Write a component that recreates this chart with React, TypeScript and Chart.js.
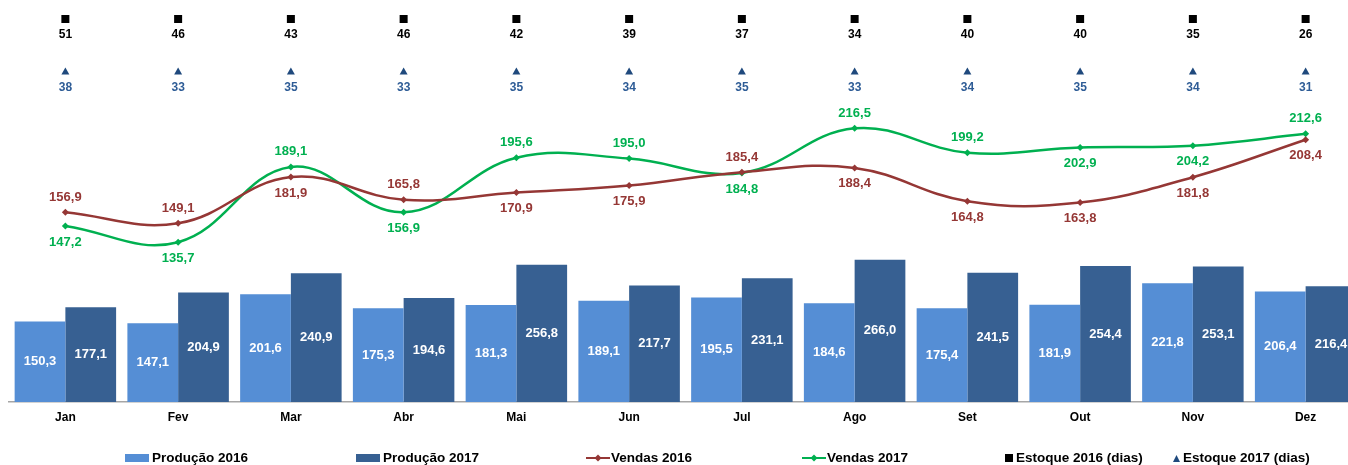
import React, { useEffect, useRef } from 'react';
import { Chart, registerables } from 'chart.js';

Chart.register(...registerables);

// ---------- DATA ----------
const months = ['Jan', 'Fev', 'Mar', 'Abr', 'Mai', 'Jun', 'Jul', 'Ago', 'Set', 'Out', 'Nov', 'Dez'];
const producao2016 = [150.3, 147.1, 201.6, 175.3, 181.3, 189.1, 195.5, 184.6, 175.4, 181.9, 221.8, 206.4];
const producao2017 = [177.1, 204.9, 240.9, 194.6, 256.8, 217.7, 231.1, 266.0, 241.5, 254.4, 253.1, 216.4];
const vendas2016 = [156.9, 149.1, 181.9, 165.8, 170.9, 175.9, 185.4, 188.4, 164.8, 163.8, 181.8, 208.4];
const vendas2017 = [147.2, 135.7, 189.1, 156.9, 195.6, 195.0, 184.8, 216.5, 199.2, 202.9, 204.2, 212.6];
const estoque2016 = [51, 46, 43, 46, 42, 39, 37, 34, 40, 40, 35, 26];
const estoque2017 = [38, 33, 35, 33, 35, 34, 35, 33, 34, 35, 34, 31];

// ---------- STYLE / LAYOUT ----------
const FONT = '"Liberation Sans", Arial, Helvetica, sans-serif';
const C_P16 = '#558ED5';
const C_P17 = '#376092';
const C_V16 = '#953735';
const C_V17 = '#00B050';
const C_E16 = '#000000';
const C_E17 = '#1F497D';
const C_E17_TEXT = '#2E5C96';

const posV16 = ['above', 'above', 'below', 'above', 'below', 'below', 'above', 'below', 'below', 'below', 'below', 'below'];
const posV17 = ['below', 'below', 'above', 'below', 'above', 'above', 'below', 'above', 'above', 'below', 'below', 'above'];

// vertical rows (canvas pixels) of the stock annotation rows
const ROW_E16_MARK = 19;
const ROW_E16_TEXT = 35;
const ROW_E17_MARK = 71;
const ROW_E17_TEXT = 88;

const fmt = (v: number) => v.toFixed(1).replace('.', ',');

const valueLabelsPlugin = {
  id: 'valueLabels',
  afterDatasetsDraw(chart: any) {
    const ctx = chart.ctx;
    ctx.save();
    ctx.textAlign = 'center';
    ctx.textBaseline = 'middle';
    ctx.font = `bold 13px ${FONT}`;
    chart.data.datasets.forEach((ds: any, di: number) => {
      const meta = chart.getDatasetMeta(di);
      if (!meta || meta.hidden) return;
      meta.data.forEach((el: any, i: number) => {
        const v = ds.data[i];
        if (ds.type === 'bar') {
          ctx.fillStyle = '#FFFFFF';
          ctx.fillText(fmt(v), el.x, (el.y + el.base) / 2);
        } else if (ds.labelPos) {
          ctx.fillStyle = ds.borderColor;
          const dy = ds.labelPos[i] === 'above' ? -15 : 16;
          ctx.fillText(fmt(v), el.x, el.y + dy);
        }
      });
    });
    ctx.restore();
  },
};

const estoquePlugin = {
  id: 'estoqueRows',
  afterDraw(chart: any) {
    const ctx = chart.ctx;
    const xs = chart.scales.x;
    ctx.save();
    ctx.textAlign = 'center';
    ctx.textBaseline = 'middle';
    ctx.font = `bold 12px ${FONT}`;
    months.forEach((_, i) => {
      const x = xs.getPixelForValue(i);
      // Estoque 2016: square
      ctx.fillStyle = C_E16;
      ctx.fillRect(x - 4, ROW_E16_MARK - 4, 8, 8);
      ctx.fillText(String(estoque2016[i]), x, ROW_E16_TEXT);
      // Estoque 2017: triangle
      ctx.fillStyle = C_E17;
      ctx.beginPath();
      ctx.moveTo(x, ROW_E17_MARK - 3.5);
      ctx.lineTo(x + 4, ROW_E17_MARK + 3.5);
      ctx.lineTo(x - 4, ROW_E17_MARK + 3.5);
      ctx.closePath();
      ctx.fill();
      ctx.fillStyle = C_E17_TEXT;
      ctx.fillText(String(estoque2017[i]), x, ROW_E17_TEXT);
    });
    ctx.restore();
  },
};

const legendItems = [
  { label: 'Produção 2016', kind: 'bar', color: C_P16, left: 125 },
  { label: 'Produção 2017', kind: 'bar', color: C_P17, left: 356 },
  { label: 'Vendas 2016', kind: 'line', color: C_V16, left: 586 },
  { label: 'Vendas 2017', kind: 'line', color: C_V17, left: 802 },
  { label: 'Estoque 2016 (dias)', kind: 'square', color: C_E16, left: 1005 },
  { label: 'Estoque 2017 (dias)', kind: 'triangle', color: C_E17, left: 1173 },
];

function LegendMarker({ kind, color }: { kind: string; color: string }) {
  if (kind === 'bar') {
    return (
      <svg width={24} height={8} style={{ marginRight: 3 }}>
        <rect x={0} y={0} width={24} height={8} fill={color} />
      </svg>
    );
  }
  if (kind === 'line') {
    return (
      <svg width={24} height={10} style={{ marginRight: 1 }}>
        <line x1={0} y1={5} x2={24} y2={5} stroke={color} strokeWidth={2} />
        <polygon points="12,1.5 15.5,5 12,8.5 8.5,5" fill={color} />
      </svg>
    );
  }
  if (kind === 'square') {
    return (
      <svg width={8} height={8} style={{ marginRight: 3 }}>
        <rect x={0} y={0} width={8} height={8} fill={color} />
      </svg>
    );
  }
  return (
    <svg width={7} height={7} style={{ marginRight: 3 }}>
      <polygon points="3.5,0 7,7 0,7" fill={color} />
    </svg>
  );
}

export default function App() {
  const canvasRef = useRef<HTMLCanvasElement | null>(null);

  useEffect(() => {
    if (!canvasRef.current) return;
    const chart = new Chart(canvasRef.current, {
      type: 'bar',
      data: {
        labels: months,
        datasets: [
          {
            type: 'line',
            label: 'Vendas 2016',
            data: vendas2016,
            yAxisID: 'y2',
            borderColor: C_V16,
            backgroundColor: C_V16,
            borderWidth: 2.5,
            tension: 0.4,
            pointStyle: 'rectRot',
            pointRadius: 3.5,
            pointBorderWidth: 0,
            pointBackgroundColor: C_V16,
            labelPos: posV16,
          } as any,
          {
            type: 'line',
            label: 'Vendas 2017',
            data: vendas2017,
            yAxisID: 'y2',
            borderColor: C_V17,
            backgroundColor: C_V17,
            borderWidth: 2.5,
            tension: 0.4,
            pointStyle: 'rectRot',
            pointRadius: 3.5,
            pointBorderWidth: 0,
            pointBackgroundColor: C_V17,
            labelPos: posV17,
          } as any,
          {
            type: 'bar',
            label: 'Produção 2016',
            data: producao2016,
            yAxisID: 'y',
            backgroundColor: C_P16,
            borderWidth: 0,
            categoryPercentage: 0.9,
            barPercentage: 1.0,
          } as any,
          {
            type: 'bar',
            label: 'Produção 2017',
            data: producao2017,
            yAxisID: 'y',
            backgroundColor: C_P17,
            borderWidth: 0,
            categoryPercentage: 0.9,
            barPercentage: 1.0,
          } as any,
        ],
      },
      options: {
        responsive: false,
        maintainAspectRatio: false,
        animation: false,
        devicePixelRatio: 1,
        layout: { padding: { left: 9, right: 0, top: 0, bottom: 0 } },
        plugins: {
          legend: { display: false },
          tooltip: { enabled: false },
          title: { display: false },
        },
        scales: {
          x: {
            grid: { display: false, drawTicks: false },
            border: { display: true, color: '#A6A6A6', width: 1.5 },
            ticks: {
              color: '#000000',
              font: { family: FONT, size: 12, weight: 'bold' },
              padding: 8,
              maxRotation: 0,
              autoSkip: false,
            },
            afterFit: (s: any) => {
              s.height = 63;
            },
          },
          y: { display: false, min: 0, max: 744 },
          y2: { display: false, min: 22.3, max: 304.7 },
        },
      } as any,
      plugins: [valueLabelsPlugin, estoquePlugin],
    });
    return () => chart.destroy();
  }, []);

  return (
    <div
      style={{
        position: 'absolute',
        left: 0,
        top: 0,
        width: 1348,
        height: 465,
        overflow: 'hidden',
        background: '#FFFFFF',
      }}
    >
      <canvas
        ref={canvasRef}
        width={1366}
        height={465}
        style={{ position: 'absolute', left: 0, top: 0, width: 1366, height: 465 }}
      />
      {legendItems.map((it) => (
        <div
          key={it.label}
          style={{
            position: 'absolute',
            left: it.left,
            top: 449,
            height: 18,
            display: 'flex',
            alignItems: 'center',
            whiteSpace: 'nowrap',
            fontFamily: FONT,
            fontWeight: 'bold',
            fontSize: 13.5,
            lineHeight: '18px',
            color: '#000000',
          }}
        >
          <LegendMarker kind={it.kind} color={it.color} />
          <span>{it.label}</span>
        </div>
      ))}
    </div>
  );
}
